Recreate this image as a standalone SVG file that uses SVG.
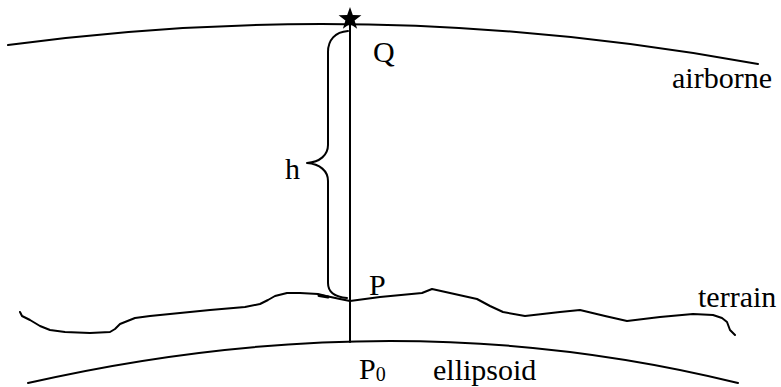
<svg xmlns="http://www.w3.org/2000/svg" width="781" height="387" viewBox="0 0 781 387">
<style>
.ln{fill:none;stroke:#000;stroke-width:2;stroke-linejoin:round;stroke-linecap:round}
.t{font-family:"Liberation Serif","Times New Roman",serif;font-size:30px;fill:#000}
.s{font-family:"Liberation Serif","Times New Roman",serif;font-size:20px;fill:#000}
</style>
<rect width="781" height="387" fill="#fff"/>
<g id="airborne">
<path class="ln" d="M8,45 Q380,-5 758,64"/>
<text class="t" x="672" y="88">airborne</text>
</g>
<g id="ellipsoid">
<path class="ln" d="M28,383 Q397,299 738,383"/>
<text class="t" x="433" y="380">ellipsoid</text>
</g>
<g id="terrain">
<path class="ln" d="M20,312 L22,316 L30,320 L40,326 L50,330 L65,332 L90,333 L110,332 L115,329 L120,324 L125,322 L135,318 L150,316 L180,313 L210,310 L245,307 L260,304 L268,300 L275,296 L287,293 L300,293 L318,294 L326,296 L340,299 L350,301 L380,297 L422,293 L432,289 L450,293 L477,299 L490,306 L503,312 L525,316 L560,312 L580,310 L605,316 L627,321 L660,317 L693,314 L713,315 L722,318 L727,322 L730,330 L735,335"/>
<path d="M319,295.5 L328,297" stroke="#000" stroke-width="3" stroke-linecap="round"/>
<text class="t" x="698" y="307">terrain</text>
</g>
<g id="Q">
<polygon points="350,7 352.8,15.1 361.4,15.3 354.6,20.5 357.1,28.7 350,23.8 342.9,28.7 345.4,20.5 338.6,15.3 347.2,15.1" fill="#000"/>
<text class="t" x="373" y="62">Q</text>
</g>
<g id="P">
<text class="t" x="369" y="295">P</text>
</g>
<g id="P0">
<text class="t" x="359" y="379">P<tspan class="s" dy="2">0</tspan></text>
</g>
<g id="h">
<path class="ln" d="M348,31 C335,32 328,40 328,52 L328,145 C328,155 320,162 307,163 C320,164 328,171 328,181 L328,283 C328,292 335,297 347,298"/>
<text class="t" x="285" y="179">h</text>
</g>
<g id="connectors">
<line class="ln" x1="350" y1="24" x2="350" y2="342"/>
</g>
</svg>
